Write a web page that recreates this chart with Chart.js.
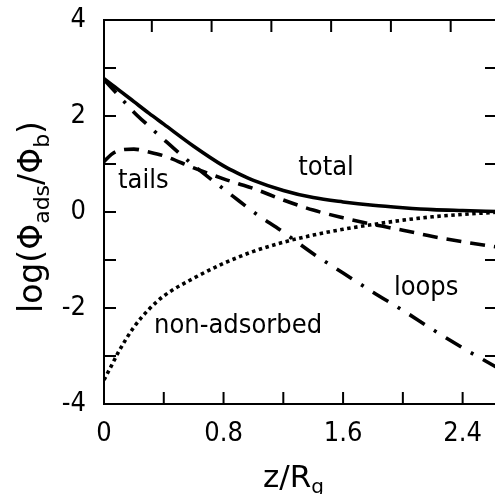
<!DOCTYPE html>
<html>
<head>
<meta charset="utf-8">
<script src="https://cdn.jsdelivr.net/npm/chart.js@4"></script>
<style>
html, body { margin: 0; padding: 0; background: #fff; }
#wrap { width: 495px; height: 494px; overflow: hidden; }
#wrap canvas { display: block; }
</style>
</head>
<body>
<div id="wrap"><canvas id="chart" width="500" height="494"></canvas></div>
<script>
// values, z in units of Rg
const zValues      = [0, 0.05, 0.1, 0.2, 0.3, 0.4, 0.6, 0.8, 0.9, 1.0, 1.2, 1.4, 1.6, 1.8, 2.0, 2.2, 2.4, 2.63];
const totalValues  = [2.78, 2.66, 2.54, 2.30, 2.06, 1.83, 1.37, 0.96, 0.80, 0.66, 0.45, 0.30, 0.21, 0.14, 0.09, 0.05, 0.03, 0.01];
const tailsValues  = [1.05, 1.2, 1.28, 1.31, 1.25, 1.17, 0.92, 0.69, 0.59, 0.49, 0.25, 0.04, -0.12, -0.26, -0.38, -0.51, -0.62, -0.73];
const loopsValues  = [2.76, 2.59, 2.42, 2.08, 1.79, 1.51, 0.97, 0.48, 0.24, 0.0, -0.42, -0.87, -1.27, -1.67, -2.05, -2.45, -2.83, -3.24];
const nonAdsValues = [-3.5, -3.2, -2.9, -2.4, -2.03, -1.75, -1.38, -1.07, -0.94, -0.82, -0.63, -0.48, -0.36, -0.26, -0.17, -0.1, -0.05, -0.005];

// tick labels and tick marks
const xLabelTicks = [0, 0.8, 1.6, 2.4];
const xLabels = ['0', '0.8', '1.6', '2.4'];
const yLabelTicks = [-4, -2, 0, 2, 4];
const yLabels = ['-4', '-2', '0', '2', '4'];
const bottomMarks = [0.4, 0.8, 1.2, 1.6, 2.0, 2.4];
const topMarks = [0.32, 0.72, 1.12, 1.52, 1.92, 2.32];
const sideMarks = [-3, -2, -1, 0, 1, 2, 3];

// curve names placed inside the plot
const curveNames = ['total', 'tails', 'loops', 'non-adsorbed'];
const namePos = [[1.30, 0.77], [0.094, 0.5], [1.94, -1.73], [0.335, -2.52]];

const FONT = '"DejaVu Sans", Verdana, sans-serif';
const NARROW = '"DejaVu Sans Condensed", "DejaVu Sans", sans-serif';

function pts(ys) {
    return zValues.map((z, i) => ({ x: z, y: ys[i] }));
}

function line(label, ys, dash) {
    return {
        label: label,
        data: pts(ys),
        borderColor: '#000',
        borderWidth: 3.6,
        borderDash: dash,
        borderCapStyle: 'butt',
        pointRadius: 0,
        fill: false,
        cubicInterpolationMode: 'monotone'
    };
}

// draws text with subscript parts, centred on x
function drawParts(ctx, parts, x, y, size) {
    const subSize = Math.round(size * 0.66);
    let w = 0;
    parts.forEach(p => {
        ctx.font = (p.sub ? subSize : size) + 'px ' + FONT;
        w += ctx.measureText(p.t).width;
    });
    let cx = x - w / 2;
    ctx.textAlign = 'left';
    ctx.textBaseline = 'alphabetic';
    parts.forEach(p => {
        ctx.font = (p.sub ? subSize : size) + 'px ' + FONT;
        ctx.fillText(p.t, cx, p.sub ? y + size * 0.2 : y);
        cx += ctx.measureText(p.t).width;
    });
}

const framePlugin = {
    id: 'frame',
    afterDatasetsDraw(chart) {
        const ctx = chart.ctx;
        const a = chart.chartArea;
        const xs = chart.scales.x;
        const ys = chart.scales.y;
        const tl = 12;
        ctx.save();
        ctx.strokeStyle = '#000';
        ctx.lineWidth = 2;
        ctx.beginPath();
        ctx.rect(a.left, a.top, a.right - a.left, a.bottom - a.top);
        bottomMarks.forEach(v => {
            const px = xs.getPixelForValue(v);
            ctx.moveTo(px, a.bottom);
            ctx.lineTo(px, a.bottom - tl);
        });
        topMarks.forEach(v => {
            const px = xs.getPixelForValue(v);
            ctx.moveTo(px, a.top);
            ctx.lineTo(px, a.top + tl);
        });
        sideMarks.forEach(v => {
            const py = ys.getPixelForValue(v);
            ctx.moveTo(a.left, py);
            ctx.lineTo(a.left + tl, py);
            ctx.moveTo(a.right, py);
            ctx.lineTo(a.right - tl, py);
        });
        ctx.stroke();

        // curve names
        ctx.fillStyle = '#000';
        ctx.font = '27px ' + NARROW;
        ctx.textAlign = 'left';
        ctx.textBaseline = 'alphabetic';
        curveNames.forEach((n, i) => {
            ctx.fillText(n, xs.getPixelForValue(namePos[i][0]), ys.getPixelForValue(namePos[i][1]));
        });

        // axis titles
        drawParts(ctx, [{ t: 'z/R' }, { t: 'g', sub: true }], (a.left + a.right) / 2 - 7, a.bottom + 83, 31);
        ctx.translate(42, (a.top + a.bottom) / 2 + 5);
        ctx.rotate(-Math.PI / 2);
        drawParts(ctx, [{ t: 'log(Φ' }, { t: 'ads', sub: true }, { t: '/Φ' }, { t: 'b', sub: true }, { t: ')' }], 0, 0, 33);
        ctx.restore();
    }
};

new Chart(document.getElementById('chart'), {
    type: 'line',
    data: {
        datasets: [
            line('tails', tailsValues, [15, 9]),
            line('loops', loopsValues, [18, 11, 3, 11]),
            line('non-adsorbed', nonAdsValues, [3.5, 3.5]),
            line('total', totalValues, [])
        ]
    },
    options: {
        responsive: false,
        animation: false,
        layout: { padding: { top: 20, right: 3, bottom: 0, left: 0 } },
        plugins: { legend: { display: false }, tooltip: { enabled: false } },
        scales: {
            x: {
                type: 'linear',
                min: 0,
                max: 2.63,
                afterBuildTicks: s => { s.ticks = xLabelTicks.map(v => ({ value: v })); },
                afterFit: s => { s.height = 90; s.paddingLeft = 0; s.paddingRight = 0; },
                ticks: {
                    autoSkip: false,
                    maxRotation: 0,
                    padding: 14,
                    color: '#000',
                    font: { family: NARROW, size: 27 },
                    callback: v => xLabels[xLabelTicks.indexOf(v)]
                },
                grid: { display: false, drawTicks: false },
                border: { display: false }
            },
            y: {
                type: 'linear',
                min: -4,
                max: 4,
                afterBuildTicks: s => { s.ticks = yLabelTicks.map(v => ({ value: v })); },
                afterFit: s => { s.width = 104; s.paddingTop = 0; s.paddingBottom = 0; },
                ticks: {
                    autoSkip: false,
                    padding: 18,
                    color: '#000',
                    font: { family: NARROW, size: 27 },
                    callback: v => yLabels[yLabelTicks.indexOf(v)]
                },
                grid: { display: false, drawTicks: false },
                border: { display: false }
            }
        }
    },
    plugins: [framePlugin]
});
</script>
</body>
</html>
